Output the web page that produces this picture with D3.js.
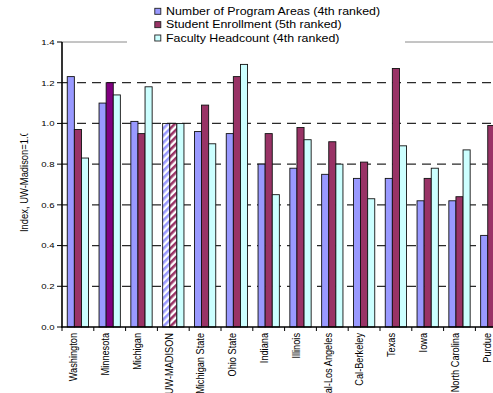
<!DOCTYPE html>
<html><head><meta charset="utf-8">
<script src="https://cdn.jsdelivr.net/npm/d3@7"></script>
<style>html,body{margin:0;padding:0;background:#fff;overflow:hidden}svg{display:block}</style>
</head><body>
<svg id="c" width="493" height="393"></svg>
<script>
const categories = ["Washington","Minnesota","Michigan","UW-MADISON","Michigan State","Ohio State","Indiana","Illinois","Cal-Los Angeles","Cal-Berkeley","Texas","Iowa","North Carolina","Purdue"];
const programAreas = [1.23,1.10,1.01,1.00,0.96,0.95,0.80,0.78,0.75,0.73,0.73,0.62,0.62,0.45];
const enrollment   = [0.97,1.20,0.95,1.00,1.09,1.23,0.95,0.98,0.91,0.81,1.27,0.73,0.64,0.99];
const faculty      = [0.83,1.14,1.18,1.00,0.90,1.29,0.65,0.92,0.80,0.63,0.89,0.78,0.87,0.90];
const seriesNames = ["Number of Program Areas (4th ranked)","Student Enrollment (5th ranked)","Faculty Headcount (4th ranked)"];
const seriesColors = ["#9999FF","#993366","#CCFFFF"];
const yTicks = [0,0.2,0.4,0.6,0.8,1.0,1.2,1.4];
const yTitle = "Index, UW-Madison=1.0";

const svg = d3.select("#c");
const X0 = 62, STEP = 31.8, Y0 = 327, Y1 = 42;
const x = d3.scaleBand().domain(categories).range([X0, X0 + STEP*categories.length]).paddingInner(0.33).paddingOuter(0.165);
const xs = d3.scaleBand().domain([0,1,2]).range([0, x.bandwidth()]);
const y = d3.scaleLinear().domain([0,1.4]).range([Y0, Y1]);
const seriesVals = [programAreas, enrollment, faculty];

// patterns
const defs = svg.append("defs");
[["hatchBlue", seriesColors[0]],["hatchRed", seriesColors[1]]].forEach(([id,c])=>{
  const p = defs.append("pattern").attr("id",id).attr("patternUnits","userSpaceOnUse")
    .attr("width",5).attr("height",5).attr("patternTransform","rotate(45)");
  p.append("rect").attr("width",5).attr("height",5).attr("fill","#fff");
  p.append("rect").attr("width",2.6).attr("height",5).attr("fill",c);
});
defs.append("clipPath").attr("id","ytclip").append("rect").attr("x",0).attr("y",133.5).attr("width",60).attr("height",200);

// gridlines
svg.append("line").attr("x1",X0).attr("x2",493).attr("y1",y(1.4)).attr("y2",y(1.4))
  .attr("stroke","#8a8a8a").attr("stroke-width",1);
yTicks.filter(t=>t>0 && t<1.4).forEach(t=>{
  svg.append("line").attr("x1",X0).attr("x2",493).attr("y1",y(t)).attr("y2",y(t))
    .attr("stroke","#2a2a2a").attr("stroke-width",1.3).attr("stroke-dasharray","9,6");
});

// bars
const g = svg.append("g");
categories.forEach((cat,i)=>{
  seriesVals.forEach((vals,s)=>{
    let fill = seriesColors[s];
    if (cat==="UW-MADISON" && s===0) fill = "url(#hatchBlue)";
    if (cat==="UW-MADISON" && s===1) fill = "url(#hatchRed)";
    if (cat==="Minnesota" && s===1) fill = "#800080";
    g.append("rect")
      .attr("x", x(cat)+xs(s)).attr("width", xs.bandwidth())
      .attr("y", y(vals[i])).attr("height", Y0 - y(vals[i]))
      .attr("fill", fill).attr("stroke","#111").attr("stroke-width",0.9);
  });
});

// axes
svg.append("line").attr("x1",X0).attr("x2",X0).attr("y1",Y1).attr("y2",Y0+0.5).attr("stroke","#000").attr("stroke-width",1.6);
svg.append("line").attr("x1",X0-0.8).attr("x2",493).attr("y1",Y0).attr("y2",Y0).attr("stroke","#000").attr("stroke-width",1.3);
yTicks.forEach(t=>{
  svg.append("line").attr("x1",X0-5).attr("x2",X0).attr("y1",y(t)).attr("y2",y(t)).attr("stroke","#000").attr("stroke-width",1);
  svg.append("text").attr("transform",`translate(${X0-7.5},${y(t)+2.8}) scale(1.2,1)`)
    .attr("text-anchor","end").attr("font-family","Arial, Liberation Sans, sans-serif").attr("font-size",8)
    .attr("fill","#000").text(d3.format(".1f")(t));
});
for (let i=0;i<=categories.length;i++){
  const xx = X0 + i*x.step();
  svg.append("line").attr("x1",xx).attr("x2",xx).attr("y1",Y0).attr("y2",Y0+4).attr("stroke","#000").attr("stroke-width",1);
}
categories.forEach(cat=>{
  const cx = x(cat) + x.bandwidth()/2 - 0.8;
  svg.append("text").attr("transform",`translate(${cx},333) scale(1.2,1) rotate(-90)`)
    .attr("text-anchor","end").attr("font-family","Arial, Liberation Sans, sans-serif").attr("font-size",9.2)
    .attr("fill","#000").text(cat);
});

// y title
svg.append("g").attr("clip-path","url(#ytclip)").append("text")
  .attr("transform","translate(28,232) scale(1.1,1) rotate(-90)")
  .attr("text-anchor","start").attr("font-family","Arial, Liberation Sans, sans-serif").attr("font-size",9.4)
  .attr("fill","#000").text(yTitle);

// legend
const lg = svg.append("g");
lg.append("rect").attr("x",127).attr("y",0).attr("width",278).attr("height",48).attr("fill","#fff");
seriesNames.forEach((n,i)=>{
  const yy = 8.3 + i*13.35;
  lg.append("rect").attr("x",154.8).attr("y",yy).attr("width",6).attr("height",6)
    .attr("fill",seriesColors[i]).attr("stroke","#222").attr("stroke-width",0.9);
  lg.append("text").attr("transform",`translate(166,${yy+6.6}) scale(1.24,1)`)
    .attr("font-family","Arial, Liberation Sans, sans-serif").attr("font-size",10)
    .attr("fill","#000").text(n);
});
</script>
</body></html>
